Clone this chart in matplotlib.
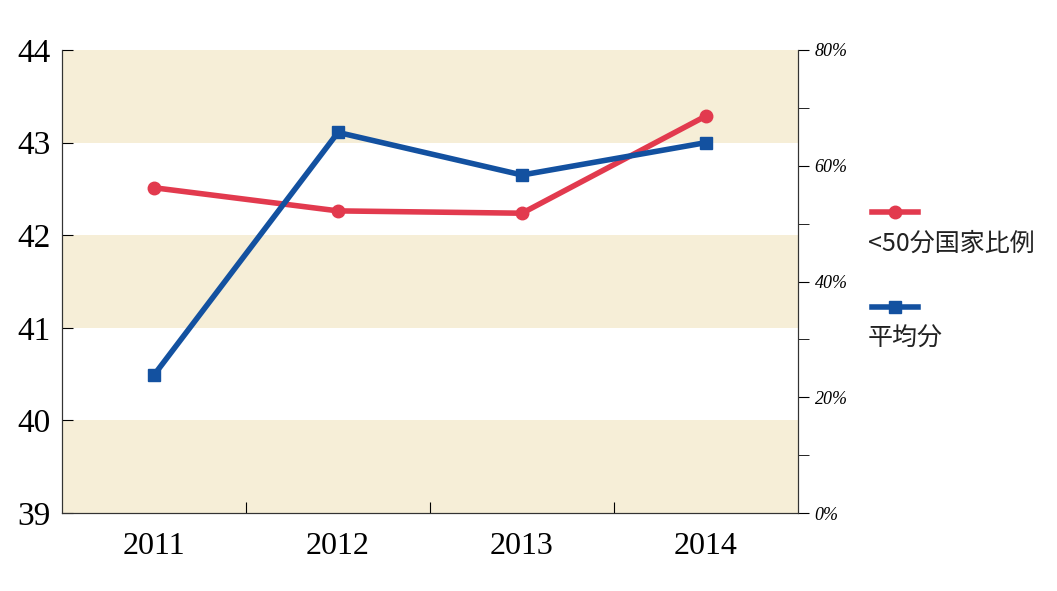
import matplotlib
matplotlib.use("Agg")
import matplotlib.pyplot as plt
from matplotlib.lines import Line2D

years = ["2011", "2012", "2013", "2014"]
avg_score = [40.49, 43.11, 42.65, 43.0]
pct_below50 = [56.2, 52.2, 51.8, 68.6]
labels = ["<50分国家比例", "平均分"]

CJK = ["Noto Sans CJK SC", "Noto Sans CJK JP", "Noto Sans CJK TC", "DejaVu Sans"]
W, H = 1057, 591
fig = plt.figure(figsize=(W/100, H/100), dpi=100)
ax = fig.add_axes([62/W, 1-513/H, (798-62)/W, (513-50)/H])
ax2 = ax.twinx()
ax2.set_zorder(ax.get_zorder()-1)
ax.patch.set_visible(False)

for lo in (0, 40/1*0.5*0+32, 64):
    pass
for lo in (39, 41, 43):
    ax2.axhspan((lo-39)*16, (lo-38)*16, color="#f6eed7", lw=0, zorder=0)

x = [i+0.5 for i in range(len(years))]
ax.set_xlim(0, 4); ax.set_ylim(39, 44)
ax2.set_ylim(0, 80)
red, = ax.plot(x, [39+p/16 for p in pct_below50], color="#e23a4e", lw=4, marker="o", ms=9, zorder=3)
blue, = ax.plot(x, avg_score, color="#1351a0", lw=4, marker="s", ms=9, zorder=4)

ax.set_xticks([1, 2, 3]); ax.set_xticklabels([])
ax.set_xticks(x, minor=True)
ax.set_xticklabels(years, minor=True, fontfamily="Liberation Serif", fontsize=23)
ax.tick_params(axis="x", which="minor", length=0, pad=14)
ax.tick_params(axis="x", which="major", length=8, direction="in")
ax.set_yticks(range(39, 45))
ax.set_yticklabels([str(v) for v in range(39, 45)], fontfamily="Liberation Serif", fontsize=24)
ax.tick_params(axis="y", length=8, direction="in", pad=8)
ax2.set_yticks(range(0, 81, 20))
ax2.set_yticklabels([f"{v}%" for v in range(0, 81, 20)], fontfamily="Liberation Serif", fontsize=13, style="italic")
ax2.set_yticks(range(10, 80, 20), minor=True)
ax2.tick_params(axis="y", which="both", length=8, direction="out", pad=4)
for a in (ax, ax2):
    a.spines["top"].set_visible(False)
    for s in a.spines.values():
        s.set_color("#333333")

# manual legend: handle above label
for (ln, lab, yh) in [(red, labels[0], 212), (blue, labels[1], 307)]:
    h = Line2D([872/W, 918/W], [1-yh/H]*2, transform=fig.transFigure,
               color=ln.get_color(), lw=4, marker=ln.get_marker(), ms=9, markevery=[1])
    h.set_xdata([872/W, 895/W, 918/W]); h.set_ydata([1-yh/H]*3)
    fig.add_artist(h)
    fig.text(868/W, 1-(yh+32)/H, lab, fontfamily=CJK, fontsize=18, va="center", ha="left", color="#222222")
fig.savefig("out.png", dpi=100)
